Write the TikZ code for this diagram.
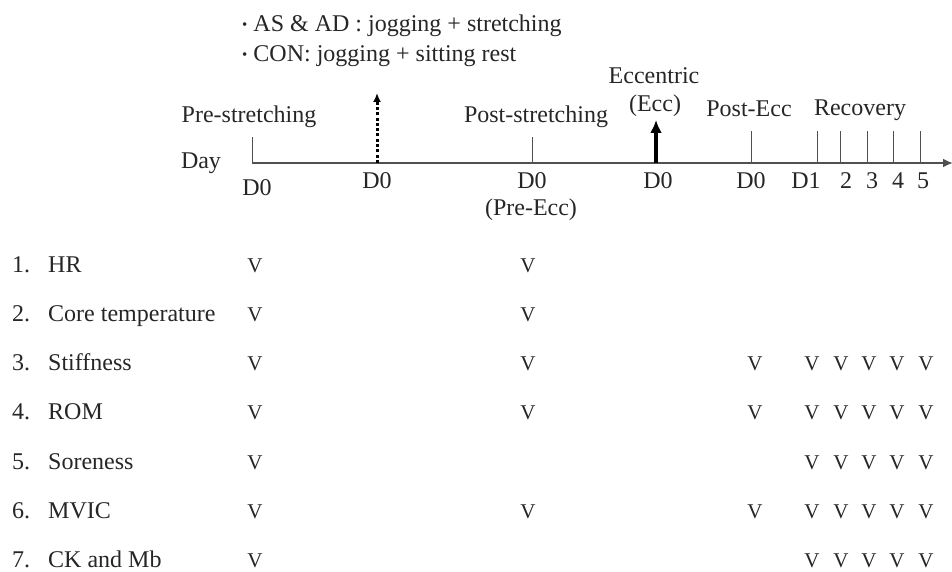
\documentclass[tikz,border=0pt]{standalone}
\usepackage{fontspec}
\setmainfont{Liberation Serif}
\usetikzlibrary{arrows.meta}
\definecolor{TLText}{RGB}{38,38,38}
\definecolor{TLLine}{RGB}{80,80,80}

\begin{document}
\begin{tikzpicture}[x=1pt,y=-1pt,
  lbl/.style={font=\fontsize{24}{28}\selectfont,text=TLText,inner sep=0pt,anchor=base},
  vmark/.style={font=\fontsize{21}{24}\selectfont,text=TLText,inner sep=0pt,anchor=base},
  tickline/.style={draw=TLLine,line width=1pt},
  axisline/.style={-{Latex[length=10pt,width=9pt]},draw=TLLine,line width=2.4pt},
  dotarrow/.style={-{Latex[length=9pt,width=8pt]},draw=black,dash pattern=on 3pt off 2.3pt,line width=3pt},
  eccarrow/.style={-{Latex[length=13pt,width=12pt]},draw=black,line width=3.6pt}
]
\useasboundingbox (0,0) rectangle (952,572);
% notes above the timeline
\node[lbl,anchor=base west] (noteAS) at (242,32) {\raisebox{2pt}{\fontsize{15}{15}\selectfont\textbullet}\ AS \& AD : jogging + stretching};
\node[lbl,anchor=base west] (noteCON) at (242,62) {\raisebox{2pt}{\fontsize{15}{15}\selectfont\textbullet}\ CON: jogging + sitting rest};
% timeline
\coordinate (axL) at (252,163);
\coordinate (axR) at (953,163);
\draw[axisline] (axL) -- (axR);
\foreach \n/\x/\h in {pre/252/26, post/532/26, pecc/751/32, r1/817/32, r2/840/32, r3/867/32, r4/893/32, r5/920/32}{
  \coordinate (t\n) at (\x,163);
  \draw[tickline] (t\n) -- ++(0,-\h);
}
\coordinate (tdot) at (377,163);
\coordinate (tecc) at (656,163);
\draw[dotarrow] (tdot) -- ++(0,-70);
\draw[eccarrow] (tecc) -- ++(0,-43);
% timeline labels
\node[lbl] (preLbl) at (249,123) {Pre-stretching};
\node[lbl] (postLbl) at (536,123) {Post-stretching};
\node[lbl] (eccLbl) at (654,84) {Eccentric};
\node[lbl] (eccAbbr) at (655,112) {(Ecc)};
\node[lbl] (peccLbl) at (749,117) {Post-Ecc};
\node[lbl] (recLbl) at (860,116) {Recovery};
\node[lbl] (dayLbl) at (201,168) {Day};
\node[lbl] (dPre) at (257,196) {D0};
\foreach \n/\x/\t in {dot/377/D0, post/532/D0, ecc/658/D0, pecc/751/D0, r1/806/D1, r2/846/2, r3/872/3, r4/898/4, r5/923/5}
  \node[lbl] (d\n) at (\x,188) {\t};
\node[lbl] (preEcc) at (531,215) {(Pre-Ecc)};
% measurements
\foreach \i/\name in {1/HR,2/Core temperature,3/Stiffness,4/ROM,5/Soreness,6/MVIC,7/CK and Mb}{
  \pgfmathsetmacro\ry{272+49.3*(\i-1)}
  \node[lbl,anchor=base west] (num\i) at (12,\ry) {\i.};
  \node[lbl,anchor=base west] (item\i) at (48,\ry) {\name};
}
\foreach \i/\cols in {1/{255,528}, 2/{255,528}, 3/{255,528,755,812,841,869,897,926},
    4/{255,528,755,812,841,869,897,926}, 5/{255,812,841,869,897,926},
    6/{255,528,755,812,841,869,897,926}, 7/{255,812,841,869,897,926}}{
  \pgfmathsetmacro\ry{272+49.3*(\i-1)}
  \foreach \x in \cols
    \node[vmark] (v\i-\x) at (\x,\ry) {V};
}
\end{tikzpicture}
\end{document}
